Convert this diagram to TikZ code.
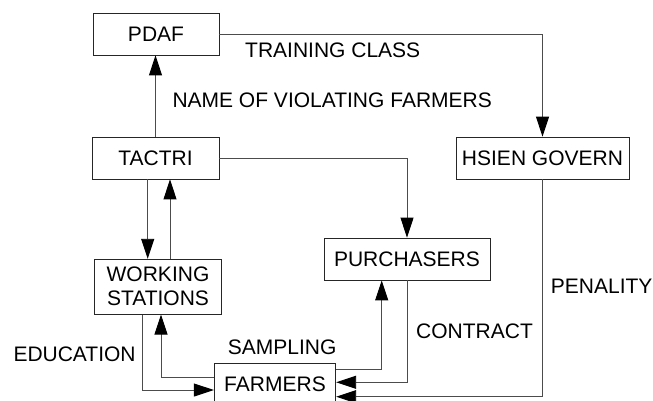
\documentclass[tikz,border=0pt]{standalone}
\usepackage{fontspec}
\setmainfont{Liberation Sans}
\usetikzlibrary{arrows.meta}
\begin{document}
\begin{tikzpicture}[x=1pt,y=-1pt,
  box/.style={draw=black!85,line width=0.8pt,minimum height=42pt,inner sep=0pt,align=center,font=\fontsize{21}{24}\selectfont},
  lbl/.style={inner sep=0pt,anchor=west,font=\fontsize{21}{24}\selectfont},
  arr/.style={draw=black!70,line width=0.9pt,-{Triangle[length=20pt,width=13pt,color=black]}}]
\useasboundingbox (0,0) rectangle (653,400);
\node[box,minimum width=126pt] (pdaf) at (156,34) {PDAF};
\node[box,minimum width=127pt] (tactri) at (155.5,158) {TACTRI};
\node[box,minimum width=173pt] (hsien) at (542.5,158) {HSIEN GOVERN};
\node[box,minimum width=166pt] (purch) at (407,259) {PURCHASERS};
\node[box,minimum width=127pt,minimum height=55pt] (ws) at (158,286.7) {WORKING\\STATIONS};
\node[box,minimum width=121.5pt] (farm) at (275,384.3) {FARMERS};

\draw[arr] (tactri.north) -- (tactri.north |- pdaf.south);
\draw[arr] (pdaf.east) -| (hsien.north);
\draw[arr] (tactri.east) -| (purch.north);
\draw[arr] ([xshift=-7.8pt]tactri.south) -- ([xshift=-7.8pt]tactri.south |- ws.north);
\draw[arr] ([xshift=12pt]ws.north) -- ([xshift=12pt]ws.north |- tactri.south);
\draw[arr] ([xshift=-15.3pt]ws.south) |- ([yshift=-5.7pt]farm.west);
\draw[arr] ([yshift=7.3pt]farm.west) -| ([xshift=3pt]ws.south);
\draw[arr] ([yshift=15pt]farm.east) -| ([xshift=-25.3pt]purch.south);
\draw[arr] ([xshift=0.3pt]purch.south) |- ([yshift=2pt]farm.east);
\draw[arr] (hsien.south) |- ([yshift=-12.4pt]farm.east);

\node[lbl] (l1) at (245,50) {TRAINING CLASS};
\node[lbl] (l2) at (172.3,100) {NAME OF VIOLATING FARMERS};
\node[lbl] (l3) at (13.3,354.3) {EDUCATION};
\node[lbl] (l4) at (227.7,347) {SAMPLING};
\node[lbl] (l5) at (416,331.7) {CONTRACT};
\node[lbl] (l6) at (550.7,286.7) {PENALITY};
\end{tikzpicture}
\end{document}
